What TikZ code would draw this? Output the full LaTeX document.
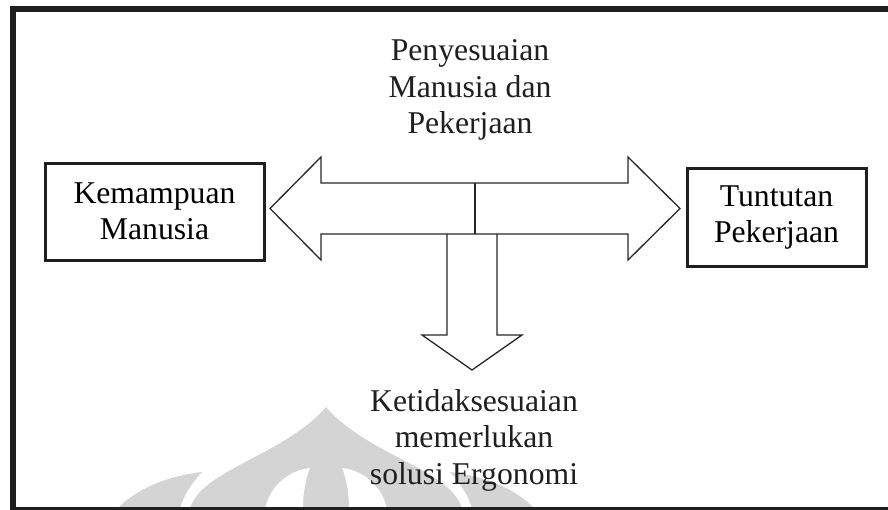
\documentclass[tikz,border=0pt]{standalone}
\usepackage{fontspec}
\setmainfont{Liberation Serif}
\usetikzlibrary{positioning,calc}

\begin{document}
\begin{tikzpicture}[
    x=1pt, y=-1pt,
    box/.style={rectangle, draw=black!88, line width=3pt, align=center, inner sep=0pt, font=\fontsize{31.7}{36}\selectfont},
    caption/.style={align=center, inner sep=0pt, text=black!88, font=\fontsize{31.7}{36.5}\selectfont},
    blockarrow/.style={draw=black!85, line width=1.3pt, line join=miter},
    wmark/.style={fill=black!17, draw=none}
  ]
    \useasboundingbox (0,0) rectangle (888,509);
    \clip (0,0) rectangle (888,509);
    % watermark
    \fill[wmark] (190,509) .. controls (200,470) and (285,455) .. (326,407)
                 .. controls (367,455) and (452,470) .. (462,509) -- cycle;
    \fill[wmark] (117,509) .. controls (140,485) and (175,475) .. (202,472)
                 .. controls (190,485) and (183,497) .. (180,509) -- cycle;
    \fill[wmark] (535,509) .. controls (512,485) and (477,475) .. (450,472)
                 .. controls (462,485) and (469,497) .. (472,509) -- cycle;
    \fill[white] (265,509) .. controls (270,485) and (290,470) .. (310,468)
                 .. controls (305,480) and (303,495) .. (303,509) -- cycle;
    \fill[white] (387,509) .. controls (382,485) and (362,470) .. (342,468)
                 .. controls (347,480) and (349,495) .. (349,509) -- cycle;
    % frame
    \draw[line width=5.5pt, black!88] (13,8.8) rectangle (900,509.5);

    \node[box, minimum width=219pt, minimum height=97pt] (manusia) at (154.5,211.5) {Kemampuan\\Manusia};
    \node[box, minimum width=179pt, minimum height=98pt] (kerja) at (776.5,217) {Tuntutan\\Pekerjaan};
    \node[caption] (sesuai) at (470,90) {Penyesuaian\\Manusia dan\\Pekerjaan};
    \node[caption] (solusi) at (474,440) {Ketidaksesuaian\\memerlukan\\solusi Ergonomi};

    % double block arrow
    \draw[blockarrow] (270,208.5) -- (321,157) -- (321,183) -- (628,183) -- (628,157)
        -- (680,208.5) -- (628,260) -- (628,234) -- (321,234) -- (321,260) -- cycle;
    \draw[blockarrow] (475,183) -- (475,234);
    % down block arrow
    \draw[blockarrow] (447,234) -- (447,335) -- (422,335) -- (472,370)
        -- (522,335) -- (497,335) -- (497,234);
\end{tikzpicture}
\end{document}
